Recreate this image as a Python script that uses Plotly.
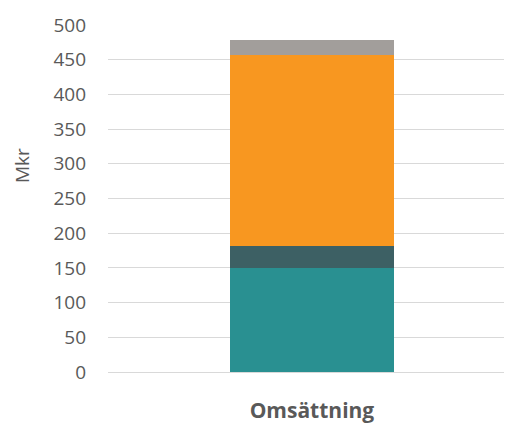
import plotly.graph_objects as go

categories = ["Omsättning"]
series_names = ["Del 1", "Del 2", "Del 3", "Del 4"]
series_values = [[150], [32], [275], [21]]
series_colors = ["#299091", "#3D6064", "#F89720", "#A29E9B"]
y_ticks = [0, 50, 100, 150, 200, 250, 300, 350, 400, 450, 500]

fig = go.Figure()
for name, vals, col in zip(series_names, series_values, series_colors):
    fig.add_trace(go.Bar(x=categories, y=vals, name=name, marker_color=col,
                         marker_line_width=0, width=0.414))

fig.update_layout(
    barmode="stack",
    width=505, height=425,
    margin=dict(l=108, r=1, t=25, b=53),
    paper_bgcolor="white", plot_bgcolor="white",
    showlegend=False,
    font=dict(family="Open Sans", color="#595959"),
)
fig.update_xaxes(
    type="category", range=[-0.515, 0.485],
    showgrid=False, showline=False, zeroline=False,
    tickfont=dict(size=21, color="#595959", family="Open Sans", weight="bold"),
    ticks="", ticklabelstandoff=24,
)
fig.update_yaxes(
    range=[0, 500], tickvals=y_ticks,
    showgrid=True, gridcolor="#D9D9D9", gridwidth=1,
    zeroline=True, zerolinecolor="#D9D9D9", zerolinewidth=1,
    showline=False, ticks="",
    tickfont=dict(size=19, color="#595959", family="Open Sans"),
    ticklabelstandoff=21,
)
fig.add_annotation(text="Mkr", textangle=-90, xref="paper", yref="paper",
                   x=(22 - 108) / 396, y=(372 - 166) / 347,
                   xanchor="center", yanchor="middle", showarrow=False,
                   font=dict(size=19, color="#595959", family="Open Sans"))
fig.write_html("out.html")
